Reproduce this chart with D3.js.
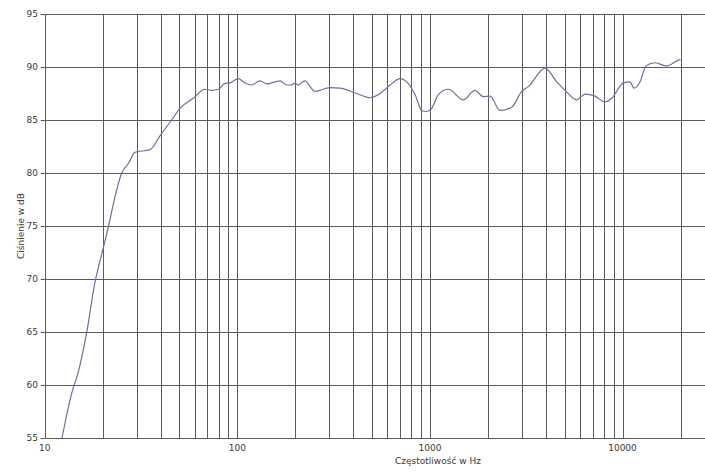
<!DOCTYPE html>
<html>
<head>
<meta charset="utf-8">
<script src="https://cdn.jsdelivr.net/npm/d3@7"></script>
<style>
  body { margin: 0; background: #fff; }
  text { font-family: "DejaVu Sans", sans-serif; fill: #3a3a3a; }
</style>
</head>
<body>
<div id="chart"></div>
<script>
var width = 705, height = 476;

// frequency response
var freq = [12.3, 14.1, 14.6, 16.5, 18.2, 19.8, 21.4, 23.2, 25.1, 27.2, 29.4, 35.2, 40, 45.6, 50.4, 59.1,
  67.9, 73.6, 79.7, 86.3, 91.7, 101, 109.6, 118.8, 131, 142, 166.6, 180, 188, 199.5, 207, 224, 253,
  303, 341, 417, 489, 551, 621, 700, 758, 837, 907, 962, 1022, 1106, 1247, 1490, 1714, 1893, 2051,
  2311, 2659, 2998, 3245, 3961, 4553, 5028, 5783, 6385, 7198, 8110, 8790, 10100, 10940, 11470,
  12330, 13240, 14750, 16950, 19500, 20000];
var spl = [55, 59.8, 60.6, 64.9, 69.6, 72.4, 74.9, 77.8, 80.0, 80.9, 81.95, 82.2, 83.6, 85.0, 86.1, 87.05,
  87.9, 87.8, 87.9, 88.45, 88.5, 88.9, 88.5, 88.3, 88.7, 88.4, 88.7, 88.3, 88.3, 88.45, 88.3, 88.7, 87.7,
  88.05, 88.0, 87.5, 87.1, 87.5, 88.3, 88.9, 88.6, 87.4, 85.9, 85.8, 86.1, 87.4, 87.9, 86.9, 87.8, 87.2, 87.25,
  85.9, 86.2, 87.7, 88.15, 89.9, 88.6, 87.8, 86.9, 87.45, 87.25, 86.7, 87.05, 88.5, 88.6, 88.0,
  88.6, 90.1, 90.4, 90.1, 90.65, 90.7];

var xGrid = [10, 20, 30, 40, 50, 60, 70, 80, 90, 100, 200, 300, 400, 500, 600, 700, 800, 900,
  1000, 2000, 3000, 4000, 5000, 6000, 7000, 8000, 9000, 10000, 20000];
var xLabels = [10, 100, 1000, 10000];
var yTicks = [55, 60, 65, 70, 75, 80, 85, 90, 95];

var x = d3.scaleLog().domain([10, 20000]).range([44.7, 680.5]);
var y = d3.scaleLinear().domain([55, 95]).range([438, 14]);

var svg = d3.select("#chart")
  .append("svg")
    .attr("width", width)
    .attr("height", height);

// horizontal lines run out to the right edge
svg.selectAll(".hgrid")
    .data(yTicks)
  .enter().append("line")
    .attr("x1", x(10) - 4)
    .attr("x2", width)
    .attr("y1", function(d){ return Math.round(y(d)) + 0.5; })
    .attr("y2", function(d){ return Math.round(y(d)) + 0.5; })
    .style("stroke", "#5c5c5c")
    .style("stroke-width", 1);

svg.selectAll(".vgrid")
    .data(xGrid)
  .enter().append("line")
    .attr("x1", function(d){ return Math.round(x(d)) + 0.5; })
    .attr("x2", function(d){ return Math.round(x(d)) + 0.5; })
    .attr("y1", y(95))
    .attr("y2", y(55))
    .style("stroke", "#5c5c5c")
    .style("stroke-width", 1);

svg.selectAll(".ylab")
    .data(yTicks)
  .enter().append("text")
    .attr("x", 38)
    .attr("y", function(d){ return y(d) + 3; })
    .attr("text-anchor", "end")
    .style("font-size", "9px")
    .text(function(d){ return d; });

svg.selectAll(".xlab")
    .data(xLabels)
  .enter().append("text")
    .attr("x", function(d){ return x(d); })
    .attr("y", 451)
    .attr("text-anchor", "middle")
    .style("font-size", "9px")
    .text(function(d){ return d; });

svg.append("text")
    .attr("x", 438)
    .attr("y", 464)
    .attr("text-anchor", "middle")
    .style("font-size", "9px")
    .text("Częstotliwość w Hz");

svg.append("text")
    .attr("transform", "translate(24," + (y(75)) + ") rotate(-90)")
    .attr("text-anchor", "middle")
    .style("font-size", "9px")
    .text("Ciśnienie w dB");

var line = d3.line()
    .x(function(d, i){ return x(freq[i]); })
    .y(function(d){ return y(d); })
    .curve(d3.curveMonotoneX);

svg.append("path")
    .datum(spl)
    .attr("d", line)
    .style("fill", "none")
    .style("stroke", "#6e6ea2")
    .style("stroke-width", 1.2);
</script>
</body>
</html>
